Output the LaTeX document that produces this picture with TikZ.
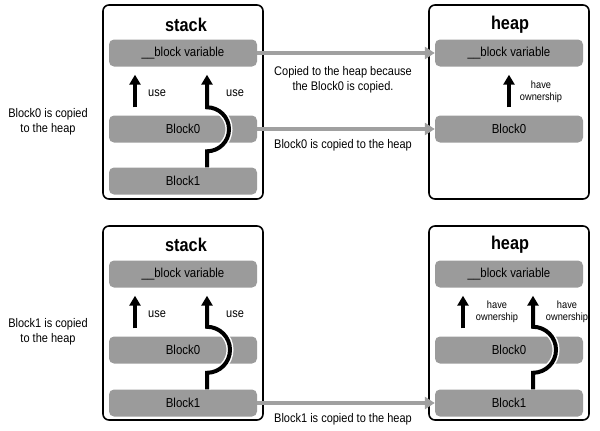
\documentclass[tikz,border=0pt]{standalone}
\usepackage{fontspec}
\setmainfont{Liberation Sans}[FakeStretch=0.88]
\usetikzlibrary{positioning,arrows.meta}
\definecolor{barGray}{RGB}{155,155,155}
\definecolor{copyGray}{RGB}{160,160,160}

\begin{document}
\begin{tikzpicture}[x=1pt,y=-1pt,
    panel/.style={draw=black,line width=1.6pt,rounded corners=6pt,minimum width=160pt,minimum height=194pt,inner sep=0pt},
    title/.style={font=\fontsize{18.5}{20}\selectfont\bfseries},
    bar/.style={fill=barGray,rounded corners=5pt,minimum width=148pt,minimum height=27pt,inner sep=0pt,font=\fontsize{13}{15}\selectfont},
    note/.style={align=center,inner sep=0pt,font=\fontsize{12.5}{14.5}\selectfont},
    small/.style={align=center,inner sep=0pt,font=\fontsize{10.5}{12}\selectfont},
    copyArrow/.style={draw=copyGray,line width=3.5pt,-{Triangle[width=12pt,length=10pt]}},
    useArrow/.style={line width=4pt,-{Triangle[width=11pt,length=10pt]},preaction={draw=white,line width=7pt},shorten >=8pt}
]
    \useasboundingbox (0,0) rectangle (600,431);

    % upper half: Block0 is copied
    \node[panel] (stackUp) at (183,102) {};
    \node[title] (stackUpTitle) at (186,25) {stack};
    \node[bar] (varStackUp) at (183,53) {\_\_block variable};
    \node[bar] (zeroStackUp) at (183,129) {Block0};
    \node[bar] (oneStackUp) at (183,181) {Block1};

    \node[panel] (heapUp) at (509,102) {};
    \node[title] (heapUpTitle) at (510,25) {heap};
    \node[bar] (varHeapUp) at (509,53) {\_\_block variable};
    \node[bar] (zeroHeapUp) at (509,129) {Block0};

    \node[note] (sideUp) at (48,122) {Block0 is copied\\to the heap};
    \node[note] (copyVarText) at (343,80) {Copied to the heap because\\the Block0 is copied.};
    \node[note] (copyZeroText) at (343,145) {Block0 is copied to the heap};

    \node[note] (useLeftUp) at (157,93) {use};
    \node[note] (useRightUp) at (235,93) {use};
    \node[small] (ownUp) at (541,92) {have\\ownership};

    \coordinate (xUseLeft) at (135,0);
    \coordinate (xUseRight) at (207,0);
    \coordinate (xOwnUp) at (509,0);

\draw[copyArrow] (varStackUp.east) -- (varHeapUp.west);
\draw[copyArrow] (zeroStackUp.east) -- (zeroHeapUp.west);
\draw[useArrow,shorten <=8pt] (zeroStackUp.north -| xUseLeft) -- (varStackUp.south -| xUseLeft);
\draw[useArrow] (oneStackUp.north -| xUseRight) -- ++(0,-16) arc[start angle=90,end angle=-90,radius=22] -- (varStackUp.south -| xUseRight);
\draw[useArrow,shorten <=8pt] (zeroHeapUp.north -| xOwnUp) -- (varHeapUp.south -| xOwnUp);

    % lower half: Block1 is copied
    \node[panel] (stackDown) at (183,323) {};
    \node[title] (stackDownTitle) at (186,245) {stack};
    \node[bar] (varStackDown) at (183,274) {\_\_block variable};
    \node[bar] (zeroStackDown) at (183,350) {Block0};
    \node[bar] (oneStackDown) at (183,403) {Block1};

    \node[panel] (heapDown) at (509,323) {};
    \node[title] (heapDownTitle) at (510,245) {heap};
    \node[bar] (varHeapDown) at (509,274) {\_\_block variable};
    \node[bar] (zeroHeapDown) at (509,350) {Block0};
    \node[bar] (oneHeapDown) at (509,403) {Block1};

    \node[note] (sideDown) at (48,332) {Block1 is copied\\to the heap};
    \node[note] (copyOneText) at (343,419) {Block1 is copied to the heap};

    \node[note] (useLeftDown) at (157,314) {use};
    \node[note] (useRightDown) at (235,314) {use};
    \node[small] (ownLeftDown) at (497,312) {have\\ownership};
    \node[small] (ownRightDown) at (567,312) {have\\ownership};

    \coordinate (xOwnLeft) at (463,0);
    \coordinate (xOwnRight) at (533,0);

\draw[copyArrow] (oneStackDown.east) -- (oneHeapDown.west);
\draw[useArrow,shorten <=8pt] (zeroStackDown.north -| xUseLeft) -- (varStackDown.south -| xUseLeft);
\draw[useArrow] (oneStackDown.north -| xUseRight) -- ++(0,-16.5) arc[start angle=90,end angle=-90,radius=23] -- (varStackDown.south -| xUseRight);
\draw[useArrow,shorten <=8pt] (zeroHeapDown.north -| xOwnLeft) -- (varHeapDown.south -| xOwnLeft);
\draw[useArrow] (oneHeapDown.north -| xOwnRight) -- ++(0,-16.5) arc[start angle=90,end angle=-90,radius=23] -- (varHeapDown.south -| xOwnRight);

\end{tikzpicture}
\end{document}
